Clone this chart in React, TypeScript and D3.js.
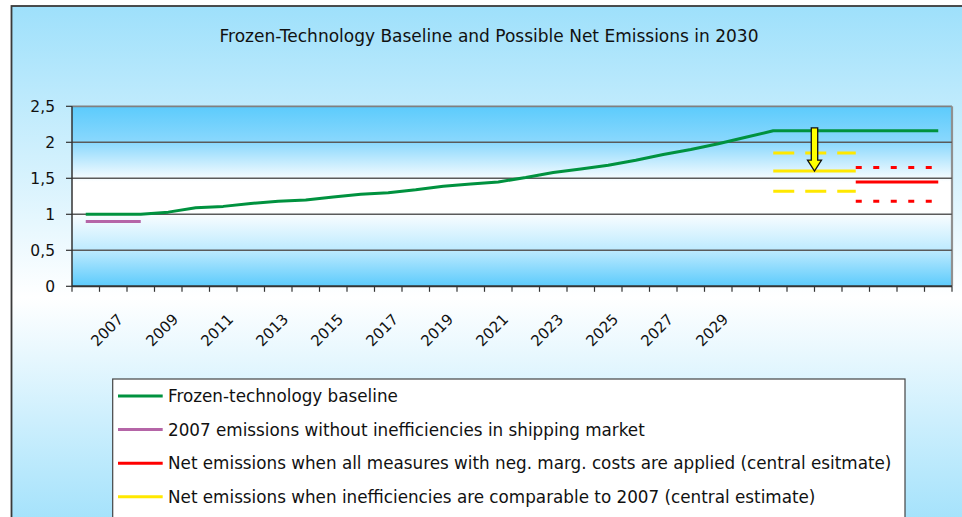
import React from 'react';
import * as d3 from 'd3';

const categories = [
  '2006','2007','2008','2009','2010','2011','2012','2013','2014','2015','2016',
  '2017','2018','2019','2020','2021','2022','2023','2024','2025','2026','2027',
  '2028','2029','2030','2031','2032','2033','2034','2035','2036','2037'
];
const tickLabels = ['2007','2009','2011','2013','2015','2017','2019','2021','2023','2025','2027','2029'];
const yTicks = [0, 0.5, 1, 1.5, 2, 2.5];

const baseline = [1.0,1.0,1.0,1.03,1.09,1.11,1.15,1.18,1.2,1.24,1.28,1.3,1.34,1.39,1.42,1.45,1.51,1.58,1.63,1.68,1.75,1.83,1.9,1.98,2.07,2.16,2.16,2.16,2.16,2.16,2.16,2.16];
const emis2007Years = ['2006','2007','2008'];
const emis2007 = [0.9, 0.9, 0.9];

const ineffYears = ['2031','2032','2033','2034'];
const ineffCentral = [1.6, 1.6, 1.6, 1.6];
const ineffHigh = [1.85, 1.85, 1.85, 1.85];
const ineffLow = [1.32, 1.32, 1.32, 1.32];

const negYears = ['2034','2035','2036','2037'];
const negCentral = [1.45, 1.45, 1.45, 1.45];
const negHigh = [1.65, 1.65, 1.65, 1.65];
const negLow = [1.18, 1.18, 1.18, 1.18];

const arrowYears = ['2032','2033'];
const arrowFrom = 2.2;
const arrowTo = 1.6;

const legendLabels = [
  'Frozen-technology baseline',
  '2007 emissions without inefficiencies in shipping market',
  'Net emissions when all measures with neg. marg. costs are applied (central esitmate)',
  'Net emissions when inefficiencies are comparable to 2007 (central estimate)'
];
const legendColors = ['#00923F', '#B565A7', '#FF0000', '#FFE800'];

const title = 'Frozen-Technology Baseline and Possible Net Emissions in 2030';

const FONT = '"DejaVu Sans", sans-serif';

export default function App() {
  const W = 962, H = 517;
  const plot = { left: 72, right: 952, top: 106.3, bottom: 286.3 };
  const x = d3.scaleBand<string>().domain(categories).range([plot.left, plot.right]).padding(0);
  const y = d3.scaleLinear().domain([0, 2.5]).range([plot.bottom, plot.top]);
  const cx = (c: string) => (x(c) as number) + x.bandwidth() / 2;

  const line = d3.line<[string, number]>().x(d => cx(d[0])).y(d => y(d[1]));
  const zip = (cs: string[], vs: number[]) => cs.map((c, i) => [c, vs[i]] as [string, number]);

  const ax = ((x(arrowYears[0]) as number) + x.bandwidth() + (x(arrowYears[1]) as number)) / 2;
  const aTop = y(arrowFrom), aTip = y(arrowTo);
  const shaftW = 3.2, headW = 7, headH = 11;
  const arrowPath = `M${ax - shaftW},${aTop} L${ax + shaftW},${aTop} L${ax + shaftW},${aTip - headH} L${ax + headW},${aTip - headH} L${ax},${aTip} L${ax - headW},${aTip - headH} L${ax - shaftW},${aTip - headH} Z`;

  const boundaries = categories.map(c => x(c) as number).concat([plot.right]);

  const legend = { x: 112.7, y: 379, w: 792.3, h: 150, rowY0: 396, rowStep: 33.6 };

  return (
    <svg width={W} height={H} style={{ position: 'absolute', left: 0, top: 0 }} fontFamily={FONT}>
      <defs>
        <linearGradient id="outerBg" x1="0" y1="0" x2="0" y2="1">
          <stop offset="0" stopColor="#9EE0FB" />
          <stop offset="0.55" stopColor="#FFFFFF" />
          <stop offset="1" stopColor="#9EE0FB" />
        </linearGradient>
        <linearGradient id="plotBg" x1="0" y1="0" x2="0" y2="1">
          <stop offset="0" stopColor="#5CCBFC" />
          <stop offset="0.2" stopColor="#8AD8FD" />
          <stop offset="0.42" stopColor="#FFFFFF" />
          <stop offset="0.58" stopColor="#FFFFFF" />
          <stop offset="0.8" stopColor="#BDEAFE" />
          <stop offset="1" stopColor="#5CCBFC" />
        </linearGradient>
      </defs>
      <rect x={0} y={0} width={W} height={H} fill="#FFFFFF" />
      <rect x={11.5} y={6} width={W + 20} height={530} fill="url(#outerBg)" stroke="#3A3A3A" strokeWidth={1.8} />

      <text x={489} y={41.5} textAnchor="middle" fontSize={17} fill="#111">{title}</text>

      <rect x={plot.left} y={plot.top} width={plot.right - plot.left} height={plot.bottom - plot.top} fill="url(#plotBg)" />
      <line x1={plot.left} x2={plot.right} y1={plot.top} y2={plot.top} stroke="#808080" strokeWidth={1.8} />
      <line x1={plot.right} x2={plot.right} y1={plot.top} y2={plot.bottom} stroke="#909090" strokeWidth={2.2} />

      {yTicks.filter(t => t > 0 && t < 2.5).map(t => (
        <line key={'g' + t} x1={plot.left} x2={plot.right} y1={y(t)} y2={y(t)} stroke="#5A5A5A" strokeWidth={1.5} />
      ))}

      <line x1={plot.left} x2={plot.left} y1={plot.top} y2={plot.bottom} stroke="#333" strokeWidth={1.5} />
      <line x1={plot.left} x2={plot.right} y1={plot.bottom} y2={plot.bottom} stroke="#333" strokeWidth={2} />
      {yTicks.map(t => (
        <g key={'yt' + t}>
          <line x1={plot.left - 6} x2={plot.left} y1={y(t)} y2={y(t)} stroke="#333" strokeWidth={1.2} />
          <text x={55} y={y(t)} dy="0.36em" textAnchor="end" fontSize={15.5} fill="#111">{String(t).replace('.', ',')}</text>
        </g>
      ))}
      {boundaries.map((b, i) => (
        <line key={'xt' + i} x1={b} x2={b} y1={plot.bottom} y2={plot.bottom + 5.5} stroke="#333" strokeWidth={1.2} />
      ))}
      {tickLabels.map(l => (
        <text key={'xl' + l} transform={`translate(${cx(l) + 11},${plot.bottom + 34}) rotate(-45)`} textAnchor="end" fontSize={15} fill="#111">{l}</text>
      ))}

      <path d={line(zip(categories, baseline)) || ''} fill="none" stroke="#00923F" strokeWidth={3} strokeLinejoin="round" />
      <path d={line(zip(emis2007Years, emis2007)) || ''} fill="none" stroke="#B565A7" strokeWidth={3} />

      <path d={line(zip(ineffYears, ineffHigh)) || ''} fill="none" stroke="#FFE800" strokeWidth={3} strokeDasharray="21,11" />
      <path d={line(zip(ineffYears, ineffLow)) || ''} fill="none" stroke="#FFE800" strokeWidth={3} strokeDasharray="21,11" />
      <path d={line(zip(ineffYears, ineffCentral)) || ''} fill="none" stroke="#FFE800" strokeWidth={3} />

      <path d={line(zip(negYears, negHigh)) || ''} fill="none" stroke="#FF0000" strokeWidth={3} strokeDasharray="6,11.5" />
      <path d={line(zip(negYears, negLow)) || ''} fill="none" stroke="#FF0000" strokeWidth={3} strokeDasharray="6,11.5" />
      <path d={line(zip(negYears, negCentral)) || ''} fill="none" stroke="#FF0000" strokeWidth={3} />

      <path d={arrowPath} fill="#FFFF00" stroke="#111" strokeWidth={1.3} strokeLinejoin="miter" />

      <rect x={legend.x} y={legend.y} width={legend.w} height={legend.h} fill="#FFFFFF" stroke="#444" strokeWidth={1.2} />
      {legendLabels.map((l, i) => {
        const ry = legend.rowY0 + i * legend.rowStep;
        return (
          <g key={'lg' + i}>
            <line x1={118} x2={162.7} y1={ry} y2={ry} stroke={legendColors[i]} strokeWidth={3} />
            <text x={168} y={ry} dy="0.36em" fontSize={16.8} fill="#111">{l}</text>
          </g>
        );
      })}
    </svg>
  );
}
